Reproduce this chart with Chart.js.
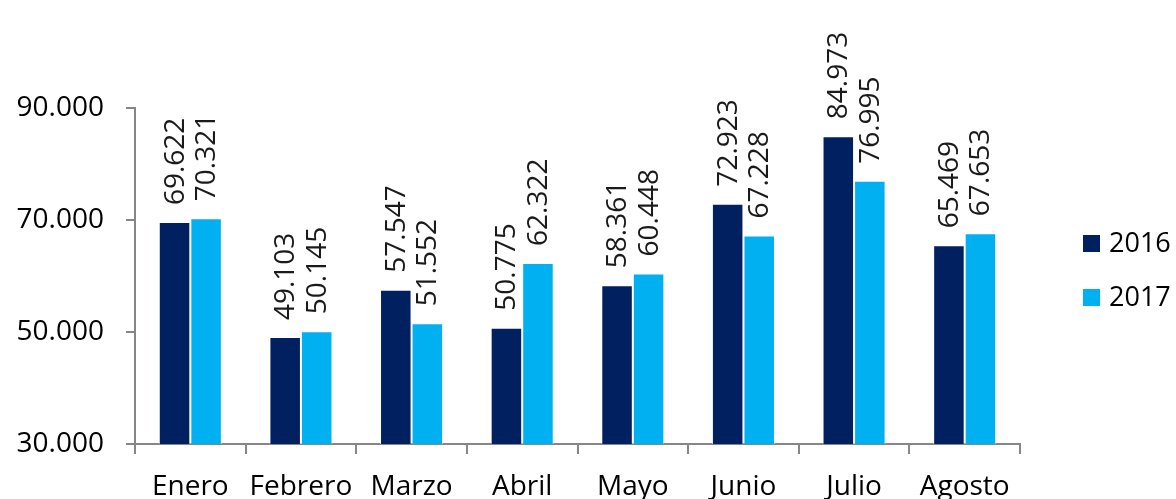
<!DOCTYPE html>
<html>
<head>
<meta charset="utf-8">
<script src="https://cdn.jsdelivr.net/npm/chart.js@4/dist/chart.umd.min.js"></script>
<style>
  html, body { margin: 0; padding: 0; background: #fff; }
  #wrap { width: 1176px; height: 499px; }
</style>
</head>
<body>
<div id="wrap"><canvas id="grafica"></canvas></div>
<script>
const meses = ["Enero", "Febrero", "Marzo", "Abril", "Mayo", "Junio", "Julio", "Agosto"];
const valores2016 = [69622, 49103, 57547, 50775, 58361, 72923, 84973, 65469];
const valores2017 = [70321, 50145, 51552, 62322, 60448, 67228, 76995, 67653];
const ticksY = [30000, 50000, 70000, 90000];

const FUENTE = "'Open Sans', sans-serif";

function miles(v) {
  return String(Math.round(v)).replace(/\B(?=(\d{3})+(?!\d))/g, ".");
}

// etiquetas giradas encima de cada barra
const etiquetas = {
  id: "etiquetas",
  afterDatasetsDraw(chart) {
    const ctx = chart.ctx;
    ctx.save();
    ctx.font = "28px " + FUENTE;
    ctx.fillStyle = "#1a1a1a";
    ctx.textAlign = "left";
    ctx.textBaseline = "middle";
    chart.data.datasets.forEach((ds, i) => {
      chart.getDatasetMeta(i).data.forEach((bar, j) => {
        ctx.save();
        ctx.translate(bar.x + 1, bar.y - 17);
        ctx.rotate(-Math.PI / 2);
        ctx.fillText(miles(ds.data[j]), 0, 0);
        ctx.restore();
      });
    });
    ctx.restore();
  }
};

// leyenda a la derecha
const leyenda = {
  id: "leyenda",
  afterDraw(chart) {
    const ctx = chart.ctx;
    ctx.save();
    ctx.font = "27px " + FUENTE;
    ctx.textBaseline = "middle";
    chart.data.datasets.forEach((ds, i) => {
      const y = 243 + i * 54;
      ctx.fillStyle = ds.backgroundColor;
      ctx.fillRect(1083, y - 8, 17, 17);
      ctx.fillStyle = "#000";
      ctx.fillText(ds.label, 1109, y + 1);
    });
    ctx.restore();
  }
};

new Chart(document.getElementById("grafica"), {
  type: "bar",
  data: {
    labels: meses,
    datasets: [
      {
        label: "2016",
        data: valores2016,
        backgroundColor: "#002060",
        borderColor: "rgba(255,255,255,0.7)",
        borderWidth: 1,
        categoryPercentage: 0.57,
        barPercentage: 1
      },
      {
        label: "2017",
        data: valores2017,
        backgroundColor: "#00B0F0",
        borderColor: "rgba(255,255,255,0.7)",
        borderWidth: 1,
        categoryPercentage: 0.57,
        barPercentage: 1
      }
    ]
  },
  options: {
    responsive: true,
    maintainAspectRatio: false,
    animation: false,
    layout: { padding: { top: 108, right: 156, bottom: 0, left: 0 } },
    plugins: {
      legend: { display: false },
      tooltip: { enabled: false }
    },
    scales: {
      x: {
        grid: {
          display: true,
          drawOnChartArea: false,
          tickLength: 10,
          color: "#868686",
          lineWidth: 2
        },
        border: { color: "#868686", width: 2 },
        ticks: {
          color: "#000",
          font: { family: FUENTE, size: 28 },
          padding: 16,
          maxRotation: 0,
          autoSkip: false
        },
        afterFit(scale) { scale.height = 55; }
      },
      y: {
        min: 30000,
        max: 90000,
        afterBuildTicks(scale) {
          scale.ticks = ticksY.map(v => ({ value: v }));
        },
        grid: {
          display: true,
          drawOnChartArea: false,
          tickLength: 9,
          color: "#868686",
          lineWidth: 2
        },
        border: { color: "#868686", width: 2 },
        ticks: {
          color: "#000",
          font: { family: FUENTE, size: 28 },
          padding: 22,
          callback: v => miles(v)
        },
        afterFit(scale) { scale.width = 135; }
      }
    }
  },
  plugins: [etiquetas, leyenda]
});
</script>
</body>
</html>
